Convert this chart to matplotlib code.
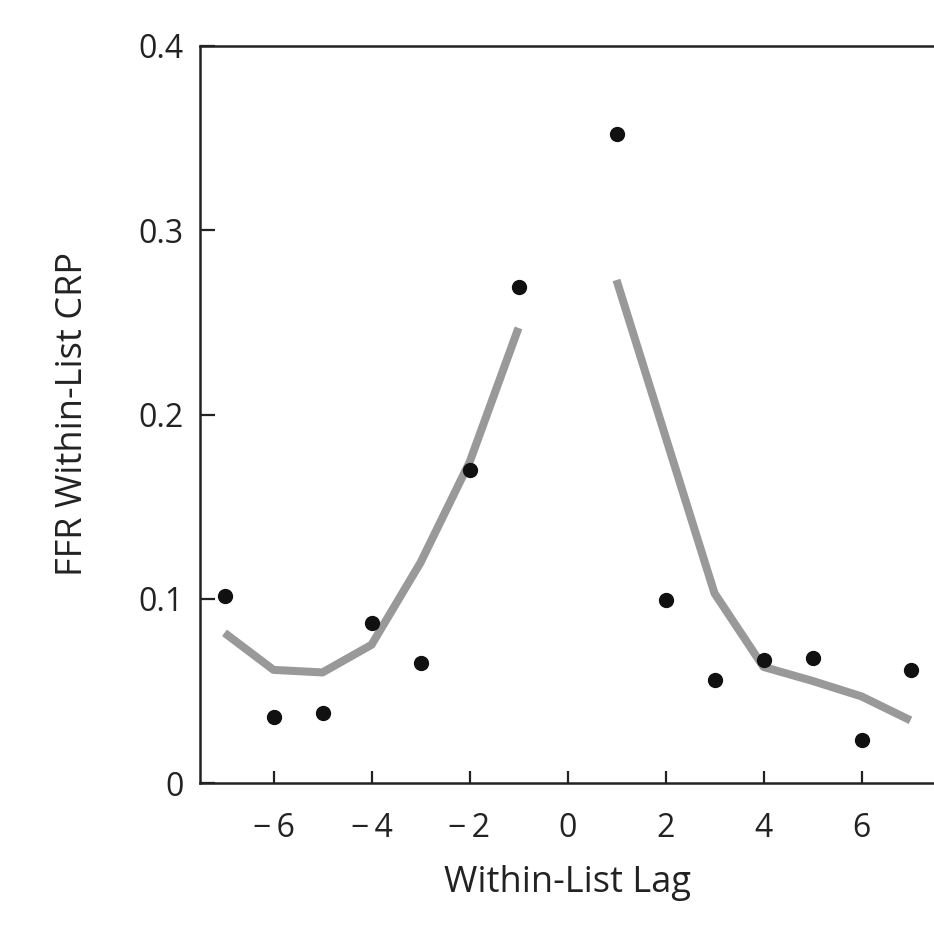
import numpy as np
import matplotlib
matplotlib.use("Agg")
import matplotlib.pyplot as plt

plt.rcParams['font.family'] = ['Open Sans', 'DejaVu Sans']

lags = [-7, -6, -5, -4, -3, -2, -1, 0, 1, 2, 3, 4, 5, 6, 7]
observed = [0.1016, 0.036, 0.038, 0.087, 0.065, 0.170, 0.269, np.nan,
            0.352, 0.0995, 0.056, 0.067, 0.0677, 0.0236, 0.0616]
model = [0.0815, 0.0614, 0.060, 0.075, 0.1196, 0.174, 0.247, np.nan,
         0.273, 0.188, 0.103, 0.063, 0.0554, 0.047, 0.034]
xticks = [-6, -4, -2, 0, 2, 4, 6]
xticklabels = ['\u2212\u20096', '\u2212\u20094', '\u2212\u20092', '0', '2', '4', '6']
yticks = [0, 0.1, 0.2, 0.3, 0.4]
yticklabels = ['0', '0.1', '0.2', '0.3', '0.4']

fig = plt.figure(figsize=(9.34, 9.27), dpi=100)
ax = fig.add_axes([200/934, 144/927, 735/934, 737/927])

ax.plot(lags, model, color='#999999', lw=5.8, solid_capstyle='butt', zorder=2)
ax.plot(lags, observed, 'o', color='#111111', markersize=10, zorder=3)

ax.set_xlim(-7.5, 7.5)
ax.set_ylim(0, 0.4)
ax.set_xticks(xticks)
ax.set_xticklabels(xticklabels)
ax.set_yticks(yticks)
ax.set_yticklabels(yticklabels)

for s in ['left', 'bottom', 'top']:
    ax.spines[s].set_linewidth(1.8)
    ax.spines[s].set_color('#222222')
ax.spines['right'].set_visible(False)

ax.tick_params(axis='x', direction='in', length=9, width=1.6, labelsize=23, pad=21, colors='#222222')
ax.tick_params(axis='y', direction='in', length=11, width=1.6, labelsize=23, pad=12, colors='#222222')

ax.set_xlabel('Within-List Lag', fontsize=26, labelpad=14, color='#222222')
ax.set_ylabel('FFR Within-List CRP', fontsize=26, labelpad=34, color='#222222')

fig.savefig('out.png', dpi=100)
